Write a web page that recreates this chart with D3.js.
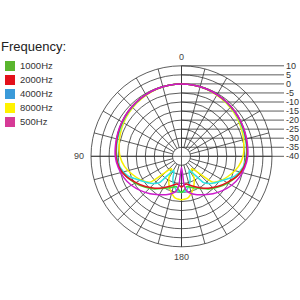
<!DOCTYPE html>
<html>
<head>
<meta charset="utf-8">
<script src="https://cdn.jsdelivr.net/npm/d3@7"></script>
<style>
  body { margin: 0; background: #fff; }
  text { font-family: "Liberation Sans", Arial, sans-serif; }
</style>
</head>
<body>
<div id="chart"></div>
<script>
// angles (deg from front, one side; mirrored for the other side)
var angles = [0, 10, 20, 30, 40, 50, 60, 70, 80, 90, 100, 110, 120, 130, 140, 150, 160, 170, 175, 180];

var db1000 = [0, -0.1, -0.3, -0.6, -1.1, -1.6, -2.2, -2.8, -3.4, -3.9, -5, -7.5, -10.5, -13.5, -16.5, -19.5, -21.5, -23, -21.5, -20];
var db2000 = [0, -0.1, -0.3, -0.6, -1, -1.5, -2.1, -2.7, -3.3, -3.8, -5, -7.5, -11, -14, -17, -20, -22.5, -24.5, -24, -23];
var db4000 = [0, -0.1, -0.3, -0.7, -1.2, -1.8, -2.5, -3.2, -3.7, -4.2, -5.5, -8.5, -13.5, -17, -21, -31, -26, -21.5, -20.5, -20];
var db8000 = [0, -0.2, -0.5, -1, -1.6, -2.3, -3.1, -4, -5, -6, -8, -11, -14, -18, -31, -26, -21, -17, -16.3, -16];
var db500  = [0, -0.1, -0.3, -0.6, -1, -1.5, -2, -2.5, -3, -3.4, -4.5, -6, -8, -10.5, -13, -15.5, -17.5, -20, -24, -34];

var legendNames = ["1000Hz", "2000Hz", "4000Hz", "8000Hz", "500Hz"];
var legendColors = ["#5ab52e", "#e3111b", "#3a9ad9", "#fff200", "#d63a96"];
var lineColors = ["#3fdc2a", "#e0141e", "#2ee3e3", "#f7f000", "#cc1ccc"];
var seriesData = [db1000, db2000, db4000, db8000, db500];

var levels = [10, 5, 0, -5, -10, -15, -20, -25, -30, -35, -40];
// label text and the direction (deg clockwise from top) it sits at
var axisLabels = [{a: 0, t: "0"}, {a: 270, t: "90"}, {a: 180, t: "180"}];

var width = 300, height = 300;
var cx = 181.5, cy = 156.3, R = 90.5;

var svg = d3.select("#chart").append("svg")
  .attr("width", width)
  .attr("height", height);

svg.append("rect").attr("width", width).attr("height", height).attr("fill", "#fff");

var r = d3.scaleLinear().domain([-40, 10]).range([0, R]);

var g = svg.append("g").attr("transform", "translate(" + cx + "," + cy + ")");
var grid = g.append("g").attr("stroke", "#333").attr("fill", "none").attr("stroke-width", 0.8);

// rings
grid.selectAll(".ring")
  .data(levels.filter(function(d) { return d > -40; }))
  .enter().append("circle")
  .attr("class", "ring")
  .attr("r", function(d) { return r(d); });

// spokes every 15 deg
grid.selectAll(".spoke")
  .data(d3.range(0, 360, 15))
  .enter().append("line")
  .attr("class", "spoke")
  .attr("x1", function(d) { var a = d * Math.PI / 180; return r(-35) * Math.sin(a); })
  .attr("y1", function(d) { var a = d * Math.PI / 180; return -r(-35) * Math.cos(a); })
  .attr("x2", function(d) { var a = d * Math.PI / 180; return R * Math.sin(a); })
  .attr("y2", function(d) { var a = d * Math.PI / 180; return -R * Math.cos(a); });

// cross through centre
grid.append("line").attr("x1", 0).attr("x2", 0).attr("y1", -R).attr("y2", R);
grid.append("line").attr("x1", -R).attr("x2", 0).attr("y1", 0).attr("y2", 0);

// level lines to the right
grid.selectAll(".lvl")
  .data(levels)
  .enter().append("line")
  .attr("class", "lvl")
  .attr("x1", 0)
  .attr("x2", 284 - cx)
  .attr("y1", function(d) { return -r(d); })
  .attr("y2", function(d) { return -r(d); });

g.selectAll(".lvlText")
  .data(levels)
  .enter().append("text")
  .attr("class", "lvlText")
  .attr("x", 286 - cx)
  .attr("y", function(d) { return -r(d); })
  .attr("dy", "0.35em")
  .attr("font-size", 9)
  .attr("fill", "#333")
  .text(function(d) { return d; });

// angle labels
g.selectAll(".angText")
  .data(axisLabels)
  .enter().append("text")
  .attr("class", "angText")
  .attr("text-anchor", "middle")
  .attr("font-size", 9)
  .attr("fill", "#444")
  .attr("x", function(d) { return (R + 12) * Math.sin(d.a * Math.PI / 180); })
  .attr("y", function(d) { return -(R + 8) * Math.cos(d.a * Math.PI / 180); })
  .attr("dy", function(d) { return d.a == 180 ? "0.6em" : (d.a == 0 ? "0.2em" : "0.35em"); })
  .text(function(d) { return d.t; });

// curves
var line = d3.lineRadial()
  .angle(function(d) { return d[0] * Math.PI / 180; })
  .radius(function(d) { return r(d[1]); })
  .curve(d3.curveCardinalClosed.tension(0.3));

function toPoints(vals) {
  var pts = angles.map(function(a, i) { return [a, vals[i]]; });
  for (var i = angles.length - 2; i > 0; i--) pts.push([-angles[i], vals[i]]);
  return pts;
}

var order = [3, 2, 0, 1, 4];
g.selectAll(".curve")
  .data(order)
  .enter().append("path")
  .attr("class", "curve")
  .attr("d", function(i) { return line(toPoints(seriesData[i])); })
  .attr("fill", "none")
  .attr("stroke", function(i) { return lineColors[i]; })
  .attr("stroke-width", 1.5);

// legend
svg.append("text")
  .attr("x", 1).attr("y", 51)
  .attr("font-size", 13)
  .attr("fill", "#222")
  .text("Frequency:");

var leg = svg.selectAll(".leg")
  .data(legendNames)
  .enter().append("g")
  .attr("class", "leg")
  .attr("transform", function(d, i) { return "translate(5," + (61 + i * 14) + ")"; });

leg.append("rect")
  .attr("width", 10).attr("height", 10)
  .attr("fill", function(d, i) { return legendColors[i]; });

leg.append("text")
  .attr("x", 15).attr("y", 5)
  .attr("dy", "0.35em")
  .attr("font-size", 9.5)
  .attr("fill", "#333")
  .text(function(d) { return d; });
</script>
</body>
</html>
